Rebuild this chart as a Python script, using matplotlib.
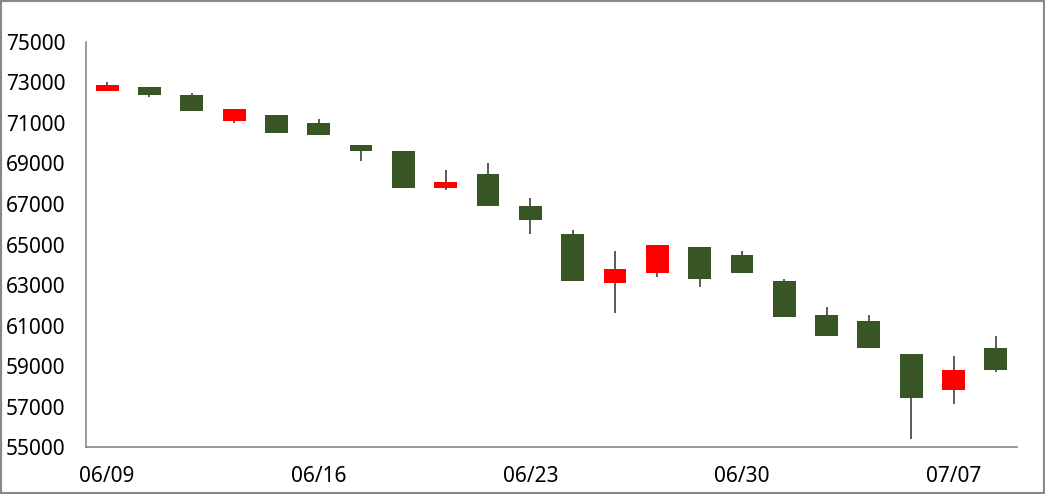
import matplotlib.pyplot as plt
from matplotlib.patches import Rectangle

# Daily prices (open, high, low, close)
dates = ['06/09', '06/10', '06/13', '06/14', '06/15', '06/16', '06/17', '06/20',
         '06/21', '06/22', '06/23', '06/24', '06/27', '06/28', '06/29', '06/30',
         '07/01', '07/04', '07/05', '07/06', '07/07', '07/08']
opens = [72600, 72800, 72400, 71100, 71400, 71000, 69900, 69600, 67800, 68500, 66900,
         65500, 63100, 63600, 64900, 64500, 63200, 61500, 61200, 59600, 57800, 59900]
highs = [73000, 72800, 72500, 71700, 71400, 71200, 69900, 69600, 68700, 69000, 67300,
         65700, 64700, 65000, 64900, 64700, 63300, 61900, 61500, 59600, 59500, 60500]
lows = [72600, 72300, 71600, 71000, 70500, 70400, 69100, 67800, 67700, 66900, 65500,
        63200, 61600, 63400, 62900, 63600, 61400, 60500, 59900, 55400, 57100, 58700]
closes = [72900, 72400, 71600, 71700, 70500, 70400, 69600, 67800, 68100, 66900, 66200,
          63200, 63800, 65000, 63300, 63600, 61400, 60500, 59900, 57400, 58800, 58800]

up_color = '#ff0000'
down_color = '#375623'

plt.rcParams['font.family'] = ['Noto Sans', 'DejaVu Sans']

fig = plt.figure(figsize=(10.45, 4.94), dpi=100)
ax = fig.add_axes([0.0823, 0.0951, 0.8909, 0.8199])

x = list(range(len(dates)))
bottoms = [min(o, c) for o, c in zip(opens, closes)]
heights = [abs(c - o) for o, c in zip(opens, closes)]
colors = [up_color if c > o else down_color for o, c in zip(opens, closes)]

ax.vlines(x, lows, highs, color='#404040', linewidth=1.2, zorder=1)
ax.bar(x, heights, bottom=bottoms, width=0.54, color=colors, zorder=2)

ax.set_xlim(-0.5, len(dates) - 0.5)
ax.set_ylim(55000, 75000)
ax.set_yticks(range(55000, 75001, 2000))
ax.set_xticks(x[::5])
ax.set_xticklabels(dates[::5])

for s in ['top', 'right']:
    ax.spines[s].set_visible(False)
for s in ['left', 'bottom']:
    ax.spines[s].set_color('#888888')
    ax.spines[s].set_linewidth(1.2)

ax.tick_params(axis='y', length=0, pad=15, labelsize=15)
ax.tick_params(axis='x', length=0, pad=14, labelsize=15)

# chart border
fig.patches.append(Rectangle((0, 0), 1, 1, transform=fig.transFigure,
                             fill=False, edgecolor='#888888', linewidth=3))

fig.savefig('out.png', dpi=100)
